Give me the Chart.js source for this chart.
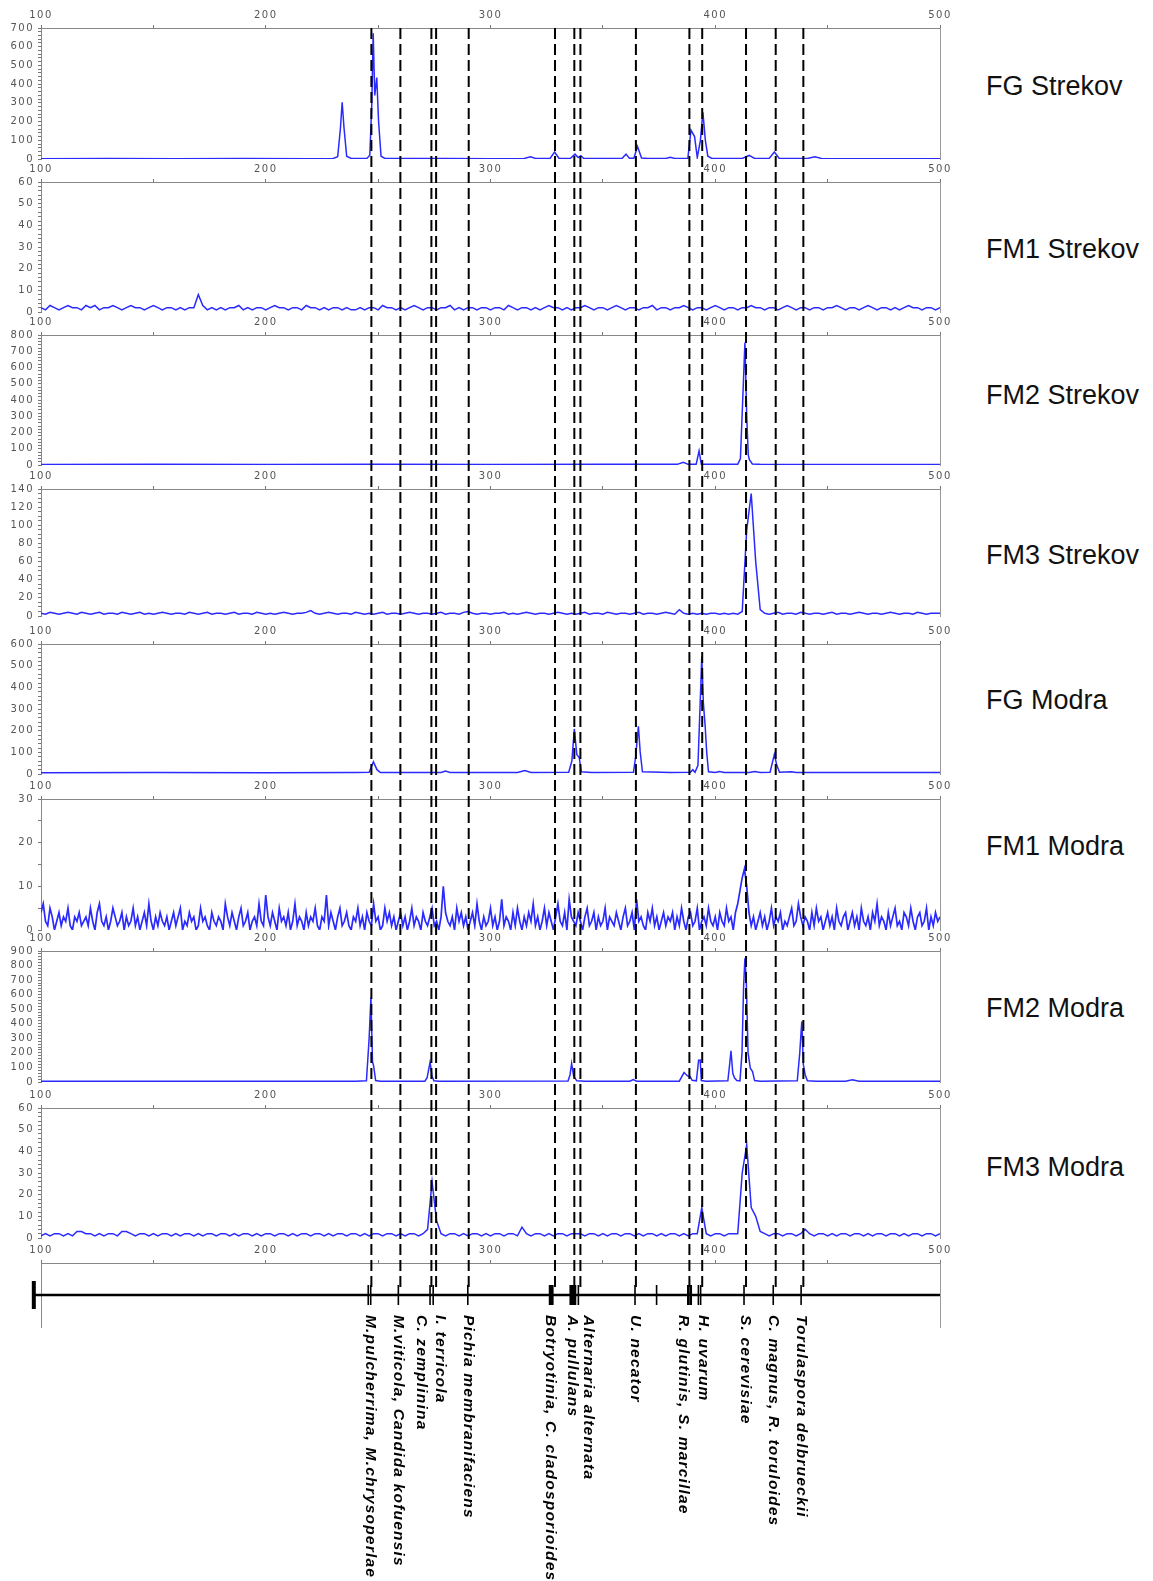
<!DOCTYPE html>
<html><head><meta charset="utf-8">
<script src="https://cdn.jsdelivr.net/npm/chart.js@4.4.0/dist/chart.umd.min.js"></script>
<style>
html,body{margin:0;padding:0;background:#fff;}
body{width:1153px;height:1581px;position:relative;overflow:hidden;font-family:'Liberation Sans',Arial,sans-serif;}
canvas{position:absolute;left:0;}
.lab{position:absolute;left:986px;font-size:27px;color:#111;white-space:nowrap;transform:translateY(-50%);font-family:'Liberation Sans',Arial,sans-serif;}
</style></head><body>
<div id="root"></div>
<script>
// ---------------- DATA ----------------
const xMin = 100, xMax = 500;
const xTickLabels = [100, 200, 300, 400, 500];
const sampleNames = ['FG Strekov','FM1 Strekov','FM2 Strekov','FM3 Strekov','FG Modra','FM1 Modra','FM2 Modra','FM3 Modra'];
const yMaxes = [700, 60, 800, 140, 600, 30, 900, 60];
const yMajor = [100, 10, 100, 20, 100, 10, 100, 10];
const yMinor = [20, 2, 20, 5, 20, 5, 20, 2];

// FG Strekov  [size, signal]
const fgStrekov = [[100,2],[130,3],[160,2],[190,3],[220,2],[230,3],[232,12],[233.2,160],[234,303],[234.8,170],[236,15],[238,3],
 [245,3],[246.3,20],[247.2,300],[247.8,672],[248.5,340],[249.4,435],[250.2,200],[251.3,15],[253,3],[280,3],[300,2],[315,3],
 [317.8,12],[320,3],[326.5,3],[328.5,37],[330.5,3],[335.5,3],[337.6,26],[339,8],[340.2,18],[341.5,3],[358.5,3],[360.3,26],
 [361.8,4],[363.8,4],[365.4,67],[367.2,5],[370,3],[378,3],[380,9],[382,3],[387.8,3],[389.2,154],[390.8,120],[392,8],
 [393.4,100],[394.5,250],[395.6,100],[396.7,15],[398.5,3],[412,3],[415.1,19],[417.5,3],[424,3],[426.3,37],[428.5,3],
 [441,3],[444.4,12],[447.5,2],[470,2],[500,2]];

// FM1 Strekov, every 2 bp from 100
const fm1Strekov = [
 2,1,3,2,1,2,3,2,2,1,3,2,3,1,2,2,3,2,1,2,
 3,2,2,1,2,3,2,1,2,2,1,2,1,2,2,8,3,1,2,1,
 2,1,2,2,3,1,2,1,2,2,1,2,3,2,2,1,2,2,1,3,
 2,2,1,2,1,2,2,1,2,1,1,2,1,2,2,1,3,2,2,1,
 2,1,2,3,2,1,2,2,1,2,2,3,1,2,1,2,2,1,2,2,
 1,2,2,1,3,2,1,2,2,1,2,1,2,3,2,2,1,2,1,2,
 2,3,2,1,2,2,1,2,3,2,1,2,2,1,2,2,3,1,2,2,
 1,2,2,3,2,1,2,2,1,2,3,2,1,2,2,1,2,2,3,2,
 2,1,2,2,1,2,3,2,1,2,2,1,2,2,1,2,2,3,2,1,
 2,2,1,2,3,2,1,2,2,1,2,1,2,3,2,2,1,2,2,1,
 2];

// FM2 Strekov
const fm2Strekov = [[100,3],[150,4],[200,3],[250,4],[300,3],[350,4],[383,4],[385.8,16],[388,4],[391.5,4],[392.8,86],[393.8,5],
 [410,4],[411.2,40],[412.5,500],[413.2,753],[414,300],[414.7,60],[415.2,32],[416.5,6],[420,4],[450,3],[500,3]];

// FM3 Strekov, every 2 bp from 100
const fm3Strekov = [
 3,2,4,3,2,3,4,3,2,4,3,2,3,4,2,3,3,2,4,3,
 2,3,4,2,3,2,3,4,3,2,3,3,2,4,3,2,3,4,2,3,
 3,2,3,4,2,3,3,2,4,3,2,3,2,3,4,3,2,3,3,4,
 6,3,2,3,4,3,2,3,3,2,4,3,2,3,2,3,4,2,3,3,
 2,3,4,3,2,3,3,2,3,4,2,3,3,2,4,5,3,2,3,3,
 2,3,3,4,2,3,2,3,4,3,2,3,3,2,3,4,3,2,3,2,
 3,4,2,3,3,2,4,3,2,3,3,2,3,4,2,3,3,2,3,4,
 3,2,7,3,2,3,2,3,2,3,3,2,3,2,3,2,5,95,135,60,
 7,3,2,3,4,2,3,3,2,4,3,2,3,3,2,3,4,2,3,3,
 2,3,4,3,2,3,3,2,3,4,3,2,3,3,2,4,3,2,3,3,
 3];

// FG Modra
const fgModra = [[100,6],[150,7],[200,6],[240,7],[246,8],[247.9,56],[249.5,20],[251,7],[278,7],[280,14],[282,7],[312,7],
 [315.3,16],[318,7],[334.8,8],[336.2,60],[337.3,208],[338.4,90],[339.5,75],[340.4,10],[345,7],[363.6,8],[364.6,80],
 [365.8,220],[366.6,102],[367.6,10],[380,7],[389,8],[390,20],[391,8],[392.3,40],[393.2,300],[394,542],[394.7,330],
 [395.5,223],[396.2,100],[397,10],[400,7],[401.9,12],[404,7],[415,7],[417.7,11],[420,7],[424.4,8],[426.3,91],[427.4,40],
 [428.6,8],[434,10],[436,7],[470,7],[500,7]];

// FM1 Modra, every 1 bp from 100
const fm1Modra = [
 4,6,2,1,5,3,0,2,4,1,3,2,5,1,0,3,2,4,1,2,
 3,1,5,2,0,4,6,2,1,3,0,2,5,3,1,2,4,0,3,1,
 2,5,1,3,0,2,4,1,6,2,0,3,1,4,2,1,3,0,2,4,
 1,3,5,0,2,1,4,2,3,0,1,5,2,3,1,0,4,2,1,3,
 2,0,6,3,1,4,2,0,3,5,1,2,4,0,2,3,1,6,2,1,
 8,3,1,4,2,0,5,2,3,1,4,0,2,6,1,3,2,0,4,1,
 3,2,5,1,0,3,2,8,1,4,2,0,3,5,1,2,4,1,0,3,
 2,5,1,3,0,4,2,1,6,2,3,0,1,5,2,4,1,3,0,2,
 4,1,3,0,2,5,1,3,2,0,4,2,1,3,5,1,2,0,3,10,
 4,2,1,3,0,5,2,4,1,3,0,2,4,1,6,2,0,3,1,2,
 5,1,3,0,2,7,1,3,2,0,4,1,5,2,0,3,1,4,2,6,
 1,3,0,2,5,1,4,2,0,3,6,2,1,4,0,7,3,2,1,4,
 2,0,3,5,1,2,4,0,3,1,2,5,0,3,2,1,4,2,0,3,
 5,1,2,4,0,7,2,3,1,0,4,2,5,1,3,0,2,4,1,3,
 2,4,0,3,1,5,2,0,3,4,1,2,5,0,2,3,1,5,2,1,
 3,0,4,2,1,5,2,3,0,4,6,9,12,14,10,4,1,3,0,2,
 4,1,3,0,2,5,1,3,2,4,0,2,1,3,5,1,2,6,3,1,
 3,2,0,4,1,5,2,3,0,2,4,1,3,0,5,2,1,3,4,0,
 2,4,1,3,0,5,2,1,3,0,4,2,6,1,3,2,0,4,1,3,
 5,1,2,0,4,3,1,5,2,0,3,4,1,2,5,0,3,1,4,2,
 3];

// FM2 Modra
const fm2Modra = [[100,5],[150,6],[200,5],[240,6],[244.8,8],[246,300],[246.8,580],[247.5,140],[248,110],[248.9,10],[251,6],
 [270.8,6],[271.8,30],[273.1,135],[274,40],[274.8,8],[277,6],[334.5,7],[335.4,50],[336.1,128],[337,40],[338.4,8],[342,6],
 [362,6],[363.5,16],[365,6],[384,6],[386.1,65],[387.4,45],[388.1,40],[388.8,38],[389.7,12],[391.6,8],[392.6,150],[393.3,151],
 [393.8,10],[396,6],[405.6,8],[406.4,120],[407,214],[407.8,60],[408.6,27],[409.6,10],[411,8],[411.9,200],[412.6,647],
 [413.2,850],[413.8,700],[414.6,200],[415.6,95],[416.6,72],[417.5,10],[420,6],[436.5,8],[437.6,200],[438.5,415],[439.2,120],
 [440,50],[441,8],[445,6],[458,6],[461,15],[464,6],[500,6]];

// FM3 Modra, every 2 bp from 100
const fm3Modra = [
 1,2,1,2,2,1,2,1,3,3,2,2,1,2,1,2,2,1,3,3,
 2,1,2,2,1,2,1,2,2,1,2,1,2,2,1,2,1,2,2,1,
 2,2,1,2,1,2,2,1,2,1,2,2,1,2,2,1,2,1,2,2,
 1,2,2,1,2,1,2,2,1,2,2,1,2,1,2,2,1,2,2,1,
 2,1,2,2,1,2,4,26,8,2,1,2,2,1,2,1,2,2,1,2,
 1,2,2,1,2,2,1,5,2,1,2,2,1,2,1,2,2,1,2,2,
 2,1,2,2,1,2,1,2,2,1,2,2,1,2,1,2,2,1,2,1,
 2,2,1,2,1,2,2,14,2,1,2,2,1,2,2,2,30,43,14,10,
 3,2,1,2,2,1,2,2,1,2,4,2,1,2,2,1,2,1,2,2,
 1,2,2,1,2,1,2,2,1,2,2,1,2,1,2,2,1,2,2,1,
 2];

// Species reference lines (bp) and the marker strip
const speciesLineX = [247.0,259.9,273.7,275.8,290.3,328.7,337.3,340.0,364.7,388.5,394.2,413.7,426.9,439.2];
const speciesNames = ['M.pulcherrima, M.chrysoperlae','M.viticola, Candida kofuensis','C. zemplinina','I. terricola',
 'Pichia membranifaciens','Botryotinia, C. cladosporioides','A. pullulans','Alternaria alternata','U. necator',
 'R. glutinis, S. marcillae','H. uvarum','S. cerevisiae','C. magnus, R. toruloides','Torulaspora delbrueckii'];
const speciesLabelX = [246.4,259.0,269.4,277.5,290.1,326.5,336.4,343.5,364.3,385.8,394.7,413.2,425.8,438.5];
const markerThinX = [245.6,246.7,259.0,273.1,274.5,289.9,339.1,364.3,373.9,392.5,393.5,412.8,425.8,438.2];
const markerThickX = [326.5,327.5,335.7,336.6,337.6,388.0,389.1];
const markerOriginX = [96.8];

// ---------------- LAYOUT ----------------
const CW = 962, AXIS_W = 41, RIGHT_W = CW - 940, TOP_AX = 22, PADB = 8;
const panelTop = [28,182,335,489,644,799,951,1108];
const panelBottom = [161,314,467,618,776,932,1084,1240];
const labelCenterY = [86,249,395,555,700,846,1008,1167];
const traceWidth = [1.5,1.5,1.5,1.5,1.5,1.7,1.5,1.5];
const stripAxisY = 1263, stripAreaBottom = 1327;
const TRACE = '#2a2aff';
const AXFONT = {family:'DejaVu Sans', size:10};
const root = document.getElementById('root');
Chart.defaults.font.family = 'DejaVu Sans';

const spacing = {id:'spacing', beforeDraw(chart){ chart.ctx.letterSpacing = '1.5px'; }};

function gridPts(vals, step){ return vals.map((v,i)=>[xMin + i*step, v]); }
const traces = [fgStrekov, gridPts(fm1Strekov,2), fm2Strekov, gridPts(fm3Strekov,2), fgModra, gridPts(fm1Modra,1), fm2Modra, gridPts(fm3Modra,2)];

function topXAxis(){
  return {type:'linear', position:'top', min:xMin, max:xMax,
    ticks:{stepSize:50, autoSkip:false, maxRotation:0, color:'#555', font:AXFONT, padding:4,
      callback:v => xTickLabels.includes(v) ? String(v) : ''},
    grid:{drawOnChartArea:false, tickLength:3, color:'#777'},
    border:{color:'#888', width:1},
    afterFit:s=>{ s.height = TOP_AX; }};
}
function mkCanvas(top, h, z){
  const c = document.createElement('canvas');
  c.width = CW; c.height = h;
  c.style.top = top + 'px'; c.style.width = CW + 'px'; c.style.height = h + 'px';
  if (z) c.style.zIndex = z;
  root.appendChild(c);
  return c;
}

traces.forEach((pts, i) => {
  const h = panelBottom[i] - panelTop[i] + TOP_AX + PADB;
  const c = mkCanvas(panelTop[i] - TOP_AX, h, 1);
  new Chart(c, {
    type:'line',
    data:{datasets:[{data:pts, borderColor:TRACE, borderWidth:traceWidth[i], pointRadius:0, tension:0, fill:false, yAxisID:'y'}]},
    options:{responsive:false, animation:false, devicePixelRatio:1, events:[],
      layout:{padding:{left:0,right:0,top:0,bottom:PADB}},
      plugins:{legend:{display:false}, tooltip:{enabled:false}},
      scales:{
        x: topXAxis(),
        y:{position:'left', min:0, max:yMaxes[i],
          ticks:{stepSize:yMinor[i], autoSkip:false, color:'#555', font:AXFONT, padding:4,
            callback:v => (Math.abs(v % yMajor[i]) < 1e-6) ? String(v) : ''},
          grid:{drawOnChartArea:false, tickLength:3, color:'#777'},
          border:{color:'#888', dash:[1,1]},
          afterFit:s=>{ s.width = AXIS_W; }},
        yR:{axis:'y', position:'right', min:0, max:yMaxes[i],
          ticks:{display:false}, grid:{display:false},
          border:{color:'#999', dash:[1,2]},
          afterFit:s=>{ s.width = RIGHT_W; }}
      }},
    plugins:[spacing]
  });
  const d = document.createElement('div');
  d.className = 'lab'; d.textContent = sampleNames[i];
  d.style.top = labelCenterY[i] + 'px';
  root.appendChild(d);
});

// marker strip with species labels
const labelPlugin = {id:'speciesLabels', afterDatasetsDraw(chart){
  const ctx = chart.ctx, xs = chart.scales.x, ys = chart.scales.y;
  const y0 = ys.getPixelForValue(0.5) + 20;
  ctx.save();
  ctx.font = 'italic bold 15.5px "Liberation Sans"';
  ctx.letterSpacing = '1.2px';
  ctx.fillStyle = '#000';
  ctx.textAlign = 'left'; ctx.textBaseline = 'middle';
  speciesNames.forEach((t, k) => {
    ctx.save();
    ctx.translate(xs.getPixelForValue(speciesLabelX[k]), y0);
    ctx.rotate(Math.PI/2);
    ctx.fillText(t, 0, 0);
    ctx.restore();
  });
  ctx.restore();
}};
{
  const top = stripAxisY - TOP_AX, h = 1581 - top;
  const c = mkCanvas(top, h, 2);
  const mk = (xs, w, r) => ({data:xs.map(x=>[x,0.5]), showLine:false, pointStyle:'line', pointRotation:90,
    pointRadius:r, pointBorderWidth:w, pointBorderColor:'#000', pointBackgroundColor:'#000', clip:false});
  new Chart(c, {
    type:'line',
    data:{datasets:[
      {data:[[markerOriginX[0],0.5],[xMax,0.5]], borderColor:'#000', borderWidth:2.5, pointRadius:0, clip:false},
      mk(markerThinX, 1.6, 10), mk(markerThickX, 2.6, 10), mk(markerOriginX, 4, 14)
    ]},
    options:{responsive:false, animation:false, devicePixelRatio:1, events:[],
      layout:{padding:{left:0,right:0,top:0,bottom:1581 - stripAreaBottom}},
      plugins:{legend:{display:false}, tooltip:{enabled:false}},
      scales:{
        x: topXAxis(),
        y:{position:'left', min:0, max:1, reverse:true, ticks:{display:false}, grid:{display:false},
          border:{color:'#888', dash:[1,1]}, afterFit:s=>{ s.width = AXIS_W; }},
        yR:{axis:'y', position:'right', min:0, max:1, ticks:{display:false}, grid:{display:false},
          border:{color:'#999', dash:[1,2]}, afterFit:s=>{ s.width = RIGHT_W; }}
      }},
    plugins:[spacing, labelPlugin]
  });
}

// dashed species reference lines across all panels
{
  const c = mkCanvas(0, 1581, 5);
  c.style.pointerEvents = 'none';
  new Chart(c, {
    type:'line',
    data:{datasets: speciesLineX.map(x => ({data:[[x,0],[x,1]], borderColor:'#000', borderWidth:2, borderDash:[11,5], pointRadius:0, clip:false}))},
    options:{responsive:false, animation:false, devicePixelRatio:1, events:[],
      layout:{padding:{left:AXIS_W, right:RIGHT_W, top:panelTop[0], bottom:1581 - 1290}},
      plugins:{legend:{display:false}, tooltip:{enabled:false}},
      scales:{x:{type:'linear', min:xMin, max:xMax, display:false}, y:{min:0, max:1, reverse:true, display:false}}}
  });
}
</script></body></html>
